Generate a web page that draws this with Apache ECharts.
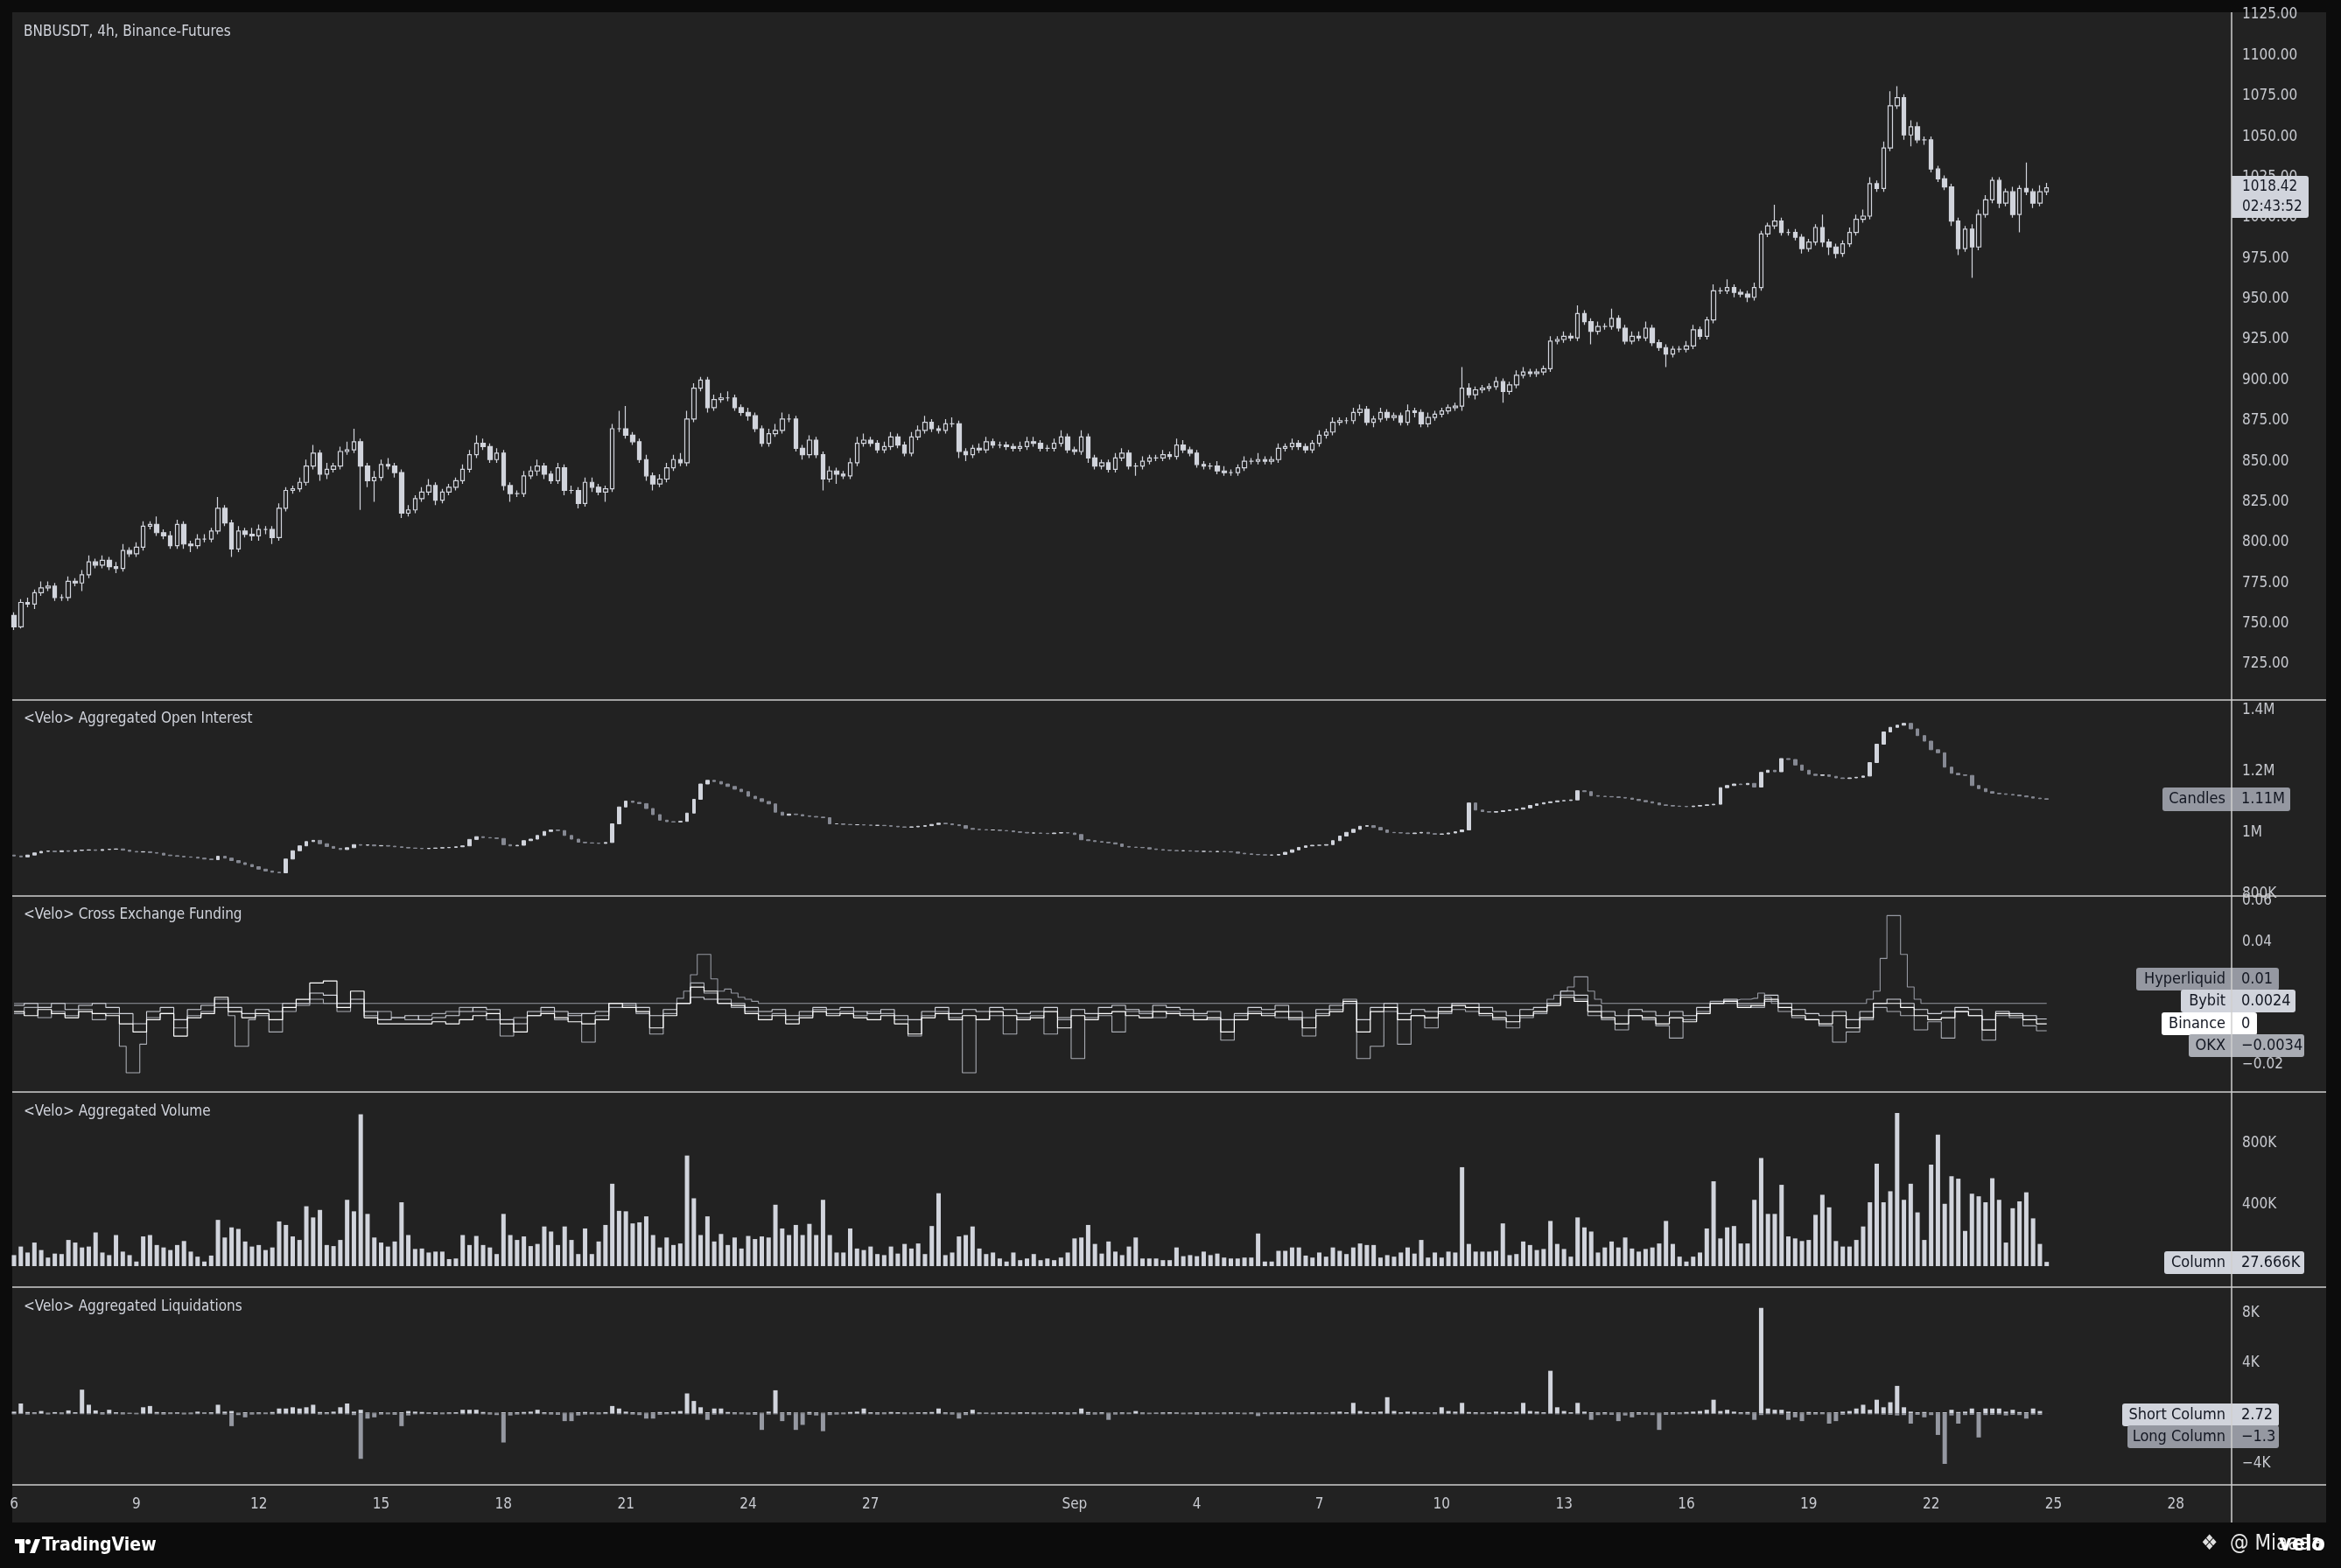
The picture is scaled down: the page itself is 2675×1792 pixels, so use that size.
<!DOCTYPE html>
<html>
<head>
<meta charset="utf-8">
<script src="https://cdn.jsdelivr.net/npm/echarts@6/dist/echarts.min.js"></script>
<style>
html, body { margin: 0; padding: 0; background: #0c0c0c; }
#panel { position: absolute; left: 14px; top: 14px; width: 2644px; height: 1726px; background: #222222; }
#container { position: absolute; left: 0; top: 0; width: 2675px; height: 1792px; }
</style>
</head>
<body>
<div id="panel"></div>
<div id="container"></div>
<script>
// BNBUSDT 4h candles, Aug 6 00:00 -> Sep 24 20:00 (300 bars)
const firstOpen = 755;
const closes = [
  748,763,762,769,772,773,766,766,776,775,
  780,788,786,789,785,784,795,793,797,810,
  811,806,804,798,811,799,798,802,802,807,
  821,812,796,807,805,804,808,808,803,821,
  832,833,837,847,855,842,845,847,856,857,
  862,847,838,840,848,847,843,818,820,827,
  831,835,826,831,834,838,845,854,861,859,
  851,855,835,830,830,841,844,847,842,838,
  846,832,832,824,837,834,831,833,870,870,
  866,862,851,841,836,839,846,851,849,876,
  895,900,883,888,889,889,883,880,878,870,
  861,867,869,876,876,858,854,863,854,839,
  844,842,841,849,861,863,861,857,859,865,
  860,855,865,869,874,870,869,873,873,856,
  854,858,857,862,860,860,859,858,859,862,
  861,858,858,861,865,857,856,865,852,847,
  849,845,852,855,847,847,850,852,852,854,
  853,860,857,855,848,847,847,844,843,843,
  846,850,850,851,850,851,858,859,861,859,
  857,861,866,868,874,875,875,880,882,874,
  876,880,877,878,874,881,880,873,877,879,
  881,883,884,895,891,894,895,896,899,893,
  897,903,905,904,905,907,924,925,927,926,
  941,936,930,933,933,938,932,924,927,926,
  932,923,920,916,919,919,921,931,927,937,
  955,955,957,954,953,951,957,990,995,998,
  991,991,988,981,985,994,985,982,978,984,
  991,999,1001,1021,1018,1043,1069,1074,1051,1056,
  1048,1048,1030,1024,1019,998,981,993,982,1002,
  1011,1023,1009,1016,1002,1018,1016,1009,1016,1018.42
];
const upperWick = [
  2,2,3,2,4,3,2,2,3,2, 3,4,2,3,2,3,4,2,3,3, 2,5,2,3,3,2,2,3,3,2, 7,2,2,3,2,4,3,2,2,3,
  2,2,3,4,5,2,4,2,3,5, 8,2,2,4,3,4,2,2,3,2, 3,4,2,2,2,2,3,3,5,3, 2,3,2,2,2,3,3,4,2,2,
  3,2,3,2,3,3,2,2,3,11, 14,2,2,3,2,3,3,3,4,5, 3,2,2,3,3,4,2,2,3,2, 2,3,4,4,3,2,2,3,2,2,
  3,2,2,3,4,4,2,2,3,3, 2,2,3,3,4,2,2,3,4,2, 2,2,3,3,2,2,2,2,3,3, 3,2,2,3,4,2,2,4,2,2,
  2,2,3,3,2,2,3,2,2,3, 2,4,3,2,2,2,2,3,3,2, 2,3,2,4,2,2,3,2,3,2, 2,2,3,2,3,2,2,3,3,2,
  2,3,2,2,2,4,2,2,3,2, 2,2,2,13,3,2,2,2,3,2, 2,3,3,2,2,2,3,2,3,2, 5,2,2,3,2,6,2,2,3,3,
  4,2,2,2,2,2,3,3,2,2, 4,2,5,2,2,2,3,2,2,10, 2,2,2,2,2,2,8,2,2,2, 3,3,4,4,2,4,9,7,2,4,
  3,2,2,2,2,2,2,2,3,3, 3,2,2,2,3,2,16,2,4,3
];
const lowerWick = [
  2,1,2,3,2,2,2,2,2,2, 5,2,2,2,2,3,2,2,2,2, 2,2,2,2,2,3,4,2,2,2, 2,2,5,2,2,3,3,3,4,2,
  2,2,2,2,2,4,3,2,2,2, 2,27,4,13,2,2,3,3,2,2, 2,2,3,2,2,2,2,2,2,2, 2,2,3,5,2,2,2,3,3,2,
  2,3,2,3,2,3,2,6,2,2, 2,2,2,3,4,2,2,2,2,2, 2,2,3,2,2,2,2,2,3,2, 2,2,2,2,2,2,3,2,2,7,
  2,6,2,2,2,2,2,2,2,2, 2,2,2,2,2,2,2,2,2,4, 4,2,2,2,2,2,2,2,2,2, 2,2,2,2,2,2,2,2,3,2,
  2,2,2,2,2,6,2,2,2,2, 2,2,2,2,2,2,2,2,2,2, 2,2,2,2,2,2,2,2,2,2, 2,2,2,2,2,2,2,2,2,2,
  3,2,2,2,2,2,3,2,2,2, 2,2,2,3,2,3,2,2,2,7, 2,2,2,2,2,2,2,2,2,2, 2,2,8,2,2,2,2,2,2,2,
  2,2,2,8,2,2,2,2,2,2, 2,2,2,3,2,3,2,2,2,2, 2,2,2,3,2,2,3,5,3,2, 2,2,2,2,2,2,2,2,3,7,
  2,3,2,2,2,3,4,2,19,2, 2,2,3,2,2,11,2,3,2,2
];

// aggregated open interest, millions
const oiFirstOpen = 0.928;
const oiClose = [
  .925,.922,.928,.935,.940,.941,.939,.942,.940,.943,
  .944,.945,.943,.946,.947,.948,.944,.940,.938,.939,
  .936,.934,.928,.926,.924,.922,.921,.918,.915,.913,
  .924,.918,.910,.903,.897,.890,.882,.876,.872,.870,
  .915,.942,.958,.972,.976,.965,.956,.950,.946,.952,
  .962,.960,.961,.958,.959,.957,.955,.953,.951,.950,
  .949,.950,.951,.952,.953,.955,.958,.979,.988,.985,
  .984,.982,.962,.958,.960,.975,.980,.992,1.005,1.010,
  1.008,.992,.980,.970,.968,.967,.966,.969,1.030,1.085,
  1.104,1.100,1.096,1.080,1.060,1.042,1.037,1.036,1.038,1.065,
  1.110,1.160,1.172,1.168,1.160,1.152,1.143,1.135,1.120,1.112,
  1.103,1.095,1.068,1.058,1.062,1.060,1.056,1.054,1.052,1.050,
  1.030,1.030,1.028,1.027,1.027,1.026,1.025,1.025,1.024,1.022,
  1.020,1.019,1.020,1.022,1.024,1.028,1.032,1.030,1.027,1.024,
  1.015,1.012,1.011,1.010,1.010,1.008,1.007,1.004,1.002,1.000,
  1.000,.999,.998,1.000,1.001,1.000,.995,.978,.975,.972,
  .970,.968,.964,.956,.954,.953,.952,.948,.946,.944,
  .943,.942,.942,.941,.940,.940,.939,.940,.939,.938,
  .934,.932,.930,.929,.928,.928,.930,.937,.945,.953,
  .958,.960,.960,.962,.975,.990,1.002,1.012,1.022,1.024,
  1.018,1.010,1.002,1.001,1.000,.998,1.000,1.002,.998,.996,
  .997,1.000,1.004,1.010,1.098,1.075,1.070,1.068,1.070,1.073,
  1.075,1.078,1.082,1.090,1.095,1.099,1.102,1.105,1.106,1.108,
  1.138,1.135,1.122,1.120,1.119,1.118,1.116,1.114,1.110,1.106,
  1.102,1.098,1.092,1.090,1.088,1.087,1.086,1.088,1.090,1.092,
  1.094,1.148,1.155,1.160,1.158,1.162,1.150,1.198,1.205,1.200,
  1.243,1.240,1.222,1.205,1.192,1.188,1.190,1.185,1.180,1.178,
  1.180,1.182,1.186,1.230,1.290,1.330,1.345,1.352,1.358,1.340,
  1.318,1.300,1.272,1.262,1.215,1.195,1.190,1.188,1.155,1.145,
  1.135,1.130,1.128,1.126,1.124,1.121,1.118,1.114,1.112,1.110
];

// cross exchange funding, %
const fundHyperliquid = [
  .01,.01,.01,.01,.01,.01,.01,.01,.01,.01, .01,.01,.01,.01,.01,.01,.01,.01,.01,.01,
  .01,.01,.01,.01,.01,.01,.01,.01,.01,.01, .012,.012,.01,.01,.01,.01,.01,.01,.01,.01,
  .01,.01,.01,.01,.01,.01,.01,.01,.01,.01, .01,.01,.01,.01,.01,.01,.01,.01,.01,.01,
  .01,.01,.01,.01,.01,.01,.01,.01,.01,.01, .01,.01,.01,.01,.01,.01,.01,.01,.01,.01,
  .01,.01,.01,.01,.01,.01,.01,.01,.01,.01, .01,.01,.01,.01,.01,.01,.01,.01,.0125,.016,
  .024,.034,.034,.022,.016,.017,.015,.013,.012,.011, .01,.01,.01,.01,.01,.01,.01,.01,.01,.01,
  .01,.01,.01,.01,.01,.01,.01,.01,.01,.01, .01,.01,.01,.01,.01,.01,.01,.01,.01,.01,
  .01,.01,.01,.01,.01,.01,.01,.01,.01,.01, .01,.01,.01,.01,.01,.01,.01,.01,.01,.01,
  .01,.01,.01,.01,.01,.01,.01,.01,.01,.01, .01,.01,.01,.01,.01,.01,.01,.01,.01,.01,
  .01,.01,.01,.01,.01,.01,.01,.01,.01,.01, .01,.01,.01,.01,.01,.01,.01,.01,.01,.01,
  .01,.01,.01,.01,.01,.01,.01,.01,.01,.01, .01,.01,.01,.01,.01,.01,.01,.01,.01,.01,
  .01,.01,.01,.01,.01,.01,.012,.014,.016,.018, .023,.023,.016,.012,.01,.01,.01,.01,.01,.01,
  .01,.01,.01,.01,.01,.01,.01,.01,.01,.01, .01,.01,.0115,.0115,.012,.012,.0125,.015,.013,.01,
  .01,.01,.01,.01,.01,.01,.01,.01,.01,.01, .01,.01,.01,.012,.016,.032,.053,.053,.034,.018,
  .012,.01,.01,.01,.01,.01,.01,.01,.01,.01, .01,.01,.01,.01,.01,.01,.01,.01,.01,.01
];
const fundBybit = [
  .009,.009,.01,.01,.008,.008,.01,.01,.007,.007,.009,.009,.01,.01,.008,.008,
  .005,.005,0,0,.006,.006,.008,.008,.002,.002,.007,.007,.009,.009,.01,.01,
  .008,.008,.005,.005,.007,.007,.006,.006,.01,.01,.01,.01,.015,.015,.014,.014,
  .01,.01,.012,.012,.006,.006,.002,.002,.003,.003,.004,.004,.002,.002,.003,.003,
  .004,.004,.006,.006,.008,.008,.007,.007,.002,.002,0,0,.006,.006,.008,.008,
  .006,.006,.004,.004,.005,.005,.006,.006,.01,.01,.01,.01,.008,.008,.004,.004,
  .007,.007,.01,.01,.013,.013,.012,.012,.01,.01,.01,.01,.008,.008,.006,.006,
  .007,.007,.004,.004,.006,.006,.008,.008,.007,.007,.008,.008,.006,.006,.005,.005,
  .007,.007,.004,.004,.002,.002,.006,.006,.008,.008,.005,.005,.007,.007,.006,.006,
  .008,.008,.007,.007,.005,.005,.006,.006,.008,.008,.003,.003,.007,.007,.005,.005,
  .008,.008,.009,.009,.007,.007,.006,.006,.009,.009,.008,.008,.007,.007,.005,.005,
  .006,.006,.002,.002,.005,.005,.008,.008,.007,.007,.009,.009,.006,.006,.003,.003,
  .007,.007,.009,.009,.01,.01,.002,.002,.008,.008,.01,.01,.005,.005,.007,.007,
  .006,.006,.008,.008,.01,.01,.01,.01,.008,.008,.006,.006,.004,.004,.007,.007,
  .008,.008,.01,.01,.016,.016,.014,.014,.009,.009,.006,.006,.004,.004,.007,.007,
  .006,.006,.004,.004,.006,.006,.004,.004,.008,.008,.01,.01,.012,.012,.01,.01,
  .01,.01,.014,.014,.01,.01,.007,.007,.005,.005,.004,.004,.006,.006,.002,.002,
  .006,.006,.01,.01,.012,.012,.01,.01,.007,.007,.005,.005,.006,.006,.008,.008,
  .007,.007,.002,.002,.006,.006,.005,.005,.004,.004,.0024,.0024
];
const fundBinance = [
  .006,.006,.004,.004,.007,.007,.005,.005,.003,.003,.006,.006,.005,.005,.004,.004,
  0,0,-.004,-.004,.002,.002,.005,.005,-.006,-.006,.003,.003,.005,.005,.013,.013,
  .006,.006,.003,.003,.005,.005,.002,.002,.008,.008,.012,.012,.02,.02,.021,.021,
  .008,.008,.016,.016,.003,.003,0,0,0,0,0,0,0,0,.001,.001,
  0,0,.002,.002,.004,.004,.005,.005,0,0,-.004,-.004,.004,.004,.005,.005,
  .003,.003,.001,.001,0,0,.002,.002,.01,.01,.008,.008,.006,.006,-.002,-.002,
  .004,.004,.01,.01,.018,.018,.016,.016,.01,.01,.009,.009,.005,.005,.002,.002,
  .004,.004,0,0,.003,.003,.006,.006,.004,.004,.005,.005,.003,.003,.002,.002,
  .004,.004,0,0,-.005,-.005,.003,.003,.005,.005,.002,.002,.004,.004,.002,.002,
  .006,.006,.004,.004,.002,.002,.003,.003,.006,.006,-.002,-.002,.004,.004,.002,.002,
  .005,.005,.006,.006,.004,.004,.003,.003,.006,.006,.005,.005,.004,.004,.002,.002,
  .003,.003,-.004,-.004,.002,.002,.005,.005,.004,.004,.006,.006,.003,.003,-.002,-.002,
  .004,.004,.006,.006,.011,.011,-.004,-.004,.006,.006,.008,.008,.002,.002,.004,.004,
  .003,.003,.006,.006,.009,.009,.008,.008,.005,.005,.003,.003,.001,.001,.004,.004,
  .006,.006,.009,.009,.013,.013,.011,.011,.006,.006,.003,.003,0,0,.004,.004,
  .003,.003,0,0,.003,.003,.001,.001,.005,.005,.01,.01,.011,.011,.008,.008,
  .009,.009,.012,.012,.008,.008,.004,.004,.002,.002,0,0,.004,.004,-.002,-.002,
  .003,.003,.01,.01,.01,.01,.008,.008,.004,.004,.002,.002,.003,.003,.006,.006,
  .004,.004,-.003,-.003,.005,.005,.004,.004,.002,.002,0,0
];
const fundOkx = [
  .005,.005,.008,.008,.003,.003,.006,.006,.004,.004,.007,.007,.002,.002,.005,.005,
  -.011,-.024,-.024,-.01,.003,.003,.005,.005,-.002,-.002,.004,.004,.006,.006,.008,.008,
  .004,-.011,-.011,.002,.004,.004,-.004,-.004,.006,.006,.009,.009,.012,.012,.01,.01,
  .006,.006,.01,.01,.004,.004,.006,.006,.003,.003,.002,.002,.004,.004,.005,.005,
  .006,.006,.008,.008,.006,.006,.002,.002,-.006,-.006,.003,.003,.004,.004,.006,.006,
  .002,.002,.005,.005,-.009,-.009,.004,.004,.008,.008,.009,.009,.005,.005,-.005,-.005,
  .005,.005,.01,.01,.02,.02,.015,.015,.012,.012,.008,.008,.006,.006,.004,.004,
  .005,.005,.002,.002,.004,.004,.007,.007,.005,.005,.006,.006,.004,.004,.006,.006,
  .005,.005,.002,.002,-.006,-.006,.004,.004,.006,.006,.003,.003,-.024,-.024,.002,.002,
  .004,.004,-.005,-.005,.003,.003,.004,.004,-.005,-.005,.002,.002,-.017,-.017,.003,.003,
  .004,.004,-.004,-.004,.006,.006,.005,.005,.003,.003,.006,.006,.005,.005,.004,.004,
  .002,.002,-.008,-.008,.004,.004,.006,.006,.005,.005,.003,.003,.002,.002,-.006,-.006,
  .005,.005,.007,.007,.012,.012,-.017,-.017,-.011,-.011,.006,.006,-.01,-.01,.004,.004,
  -.002,-.002,.005,.005,.007,.007,.006,.006,.004,.004,.002,.002,-.002,-.002,.003,.003,
  .005,.005,.01,.01,.014,.014,.012,.012,.004,.004,.002,.002,-.003,-.003,.004,.004,
  .002,.002,-.001,-.001,-.007,-.007,.002,.002,.006,.006,.011,.011,.01,.01,.009,.009,
  .008,.008,.011,.011,.006,.006,.003,.003,.002,.002,-.001,-.001,-.009,-.009,-.004,-.004,
  .002,.002,.008,.008,.006,.006,.004,.004,-.003,-.003,.001,.001,-.007,-.007,.006,.006,
  .004,.004,-.008,-.008,.004,.004,.003,.003,-.001,-.001,-.0034,-.0034
];

// aggregated volume, thousands
const volumeK = [
  72,128,89,154,105,56,82,79,171,154,
  122,128,220,89,72,203,95,72,30,194,
  203,138,122,105,138,164,95,62,30,69,
  302,187,253,243,161,128,138,105,122,292,
  269,194,171,391,318,367,138,131,171,433,
  358,991,341,187,154,128,161,417,203,112,
  115,89,95,95,46,50,203,138,197,138,
  122,79,341,203,171,194,131,145,259,226,
  138,259,171,79,246,79,161,269,538,361,
  358,279,286,325,203,122,187,138,148,722,
  443,203,325,161,210,138,187,115,197,177,
  194,187,401,246,203,269,203,276,203,433,
  203,89,89,246,115,105,128,79,72,128,
  82,145,115,148,79,262,476,72,89,194,
  203,259,115,79,89,50,30,89,39,50,
  79,39,50,39,56,89,181,187,269,145,
  82,161,95,72,128,187,50,50,50,39,
  39,122,65,72,65,95,72,82,56,50,
  50,56,56,213,30,30,100,100,122,122,
  69,56,89,62,122,100,79,122,148,138,
  138,56,72,62,89,122,82,171,56,89,
  56,95,89,646,145,95,95,95,100,279,
  72,79,161,138,105,112,295,145,112,62,
  318,253,226,89,122,161,122,187,115,95,
  112,122,148,295,145,62,30,62,89,246,
  554,181,253,262,148,148,433,706,341,341,
  531,194,181,164,171,335,466,384,164,128,
  128,171,259,417,669,417,489,1000,433,538,
  351,171,663,859,407,587,571,230,473,456,
  417,574,433,154,378,423,482,312,145,27.666
];

// aggregated liquidations (shorts positive, longs negative)
const liqShort = [
  150,800,120,90,200,60,110,80,250,100, 1900,700,250,90,300,100,80,60,50,500,
  600,120,100,80,90,60,70,150,80,100, 700,150,200,60,100,80,90,70,120,400,
  400,500,400,500,700,120,100,150,500,800, 150,300,80,60,100,70,90,100,200,150,
  120,80,100,70,90,100,300,300,300,120, 80,60,100,90,100,120,150,300,100,90,
  80,60,70,100,120,90,80,110,600,400, 150,100,80,60,90,120,100,150,200,1600,
  1000,500,100,400,400,120,90,80,70,100, 60,150,1850,90,100,80,70,120,90,60,
  100,80,70,120,150,400,100,90,80,120, 100,80,70,90,100,120,400,90,80,60,
  100,300,80,70,60,90,80,70,100,90, 80,70,60,90,100,80,90,400,120,80,
  100,60,80,90,70,200,80,60,70,90, 100,80,60,70,90,80,70,60,80,90,
  70,60,80,60,70,80,90,100,80,70, 90,100,80,70,120,150,100,850,200,120,
  100,150,1300,200,100,150,120,100,80,90, 500,200,150,850,120,100,90,80,150,120,
  100,150,850,200,150,100,3400,500,200,100, 850,150,100,80,100,70,80,60,90,100,
  80,70,60,90,100,80,120,150,200,300, 1100,200,300,150,100,120,80,8400,400,300,
  300,150,100,80,120,100,90,80,100,150, 200,400,700,300,1100,500,900,2200,500,150,
  100,120,80,90,100,300,120,150,400,100, 400,400,400,150,300,120,100,400,200,2.72
];
const liqLong = [
  -60,-40,-80,-50,-30,-70,-40,-60,-50,-40, -50,-60,-40,-80,-60,-50,-70,-40,-60,-50,
  -40,-60,-80,-50,-40,-70,-60,-50,-40,-60, -50,-80,-1000,-120,-300,-80,-60,-50,-70,-40,
  -50,-40,-60,-50,-40,-80,-60,-50,-40,-60, -120,-3600,-400,-300,-80,-60,-100,-1000,-150,-60,
  -50,-40,-80,-60,-50,-40,-60,-50,-40,-60, -80,-120,-2300,-150,-80,-60,-50,-40,-60,-80,
  -100,-600,-600,-150,-80,-60,-70,-50,-40,-60, -50,-80,-120,-400,-400,-100,-60,-50,-40,-60,
  -40,-60,-500,-80,-60,-50,-70,-60,-80,-100, -1300,-80,-60,-600,-120,-1300,-900,-100,-150,-1400,
  -120,-80,-60,-50,-40,-60,-50,-80,-60,-50, -40,-60,-50,-40,-60,-50,-40,-60,-80,-400,
  -120,-60,-50,-40,-60,-50,-40,-60,-50,-40, -60,-50,-40,-60,-50,-80,-60,-50,-100,-80,
  -60,-500,-80,-60,-50,-40,-60,-50,-40,-60, -50,-40,-60,-50,-80,-60,-50,-40,-60,-50,
  -40,-60,-50,-200,-40,-60,-50,-40,-60,-50, -40,-60,-50,-40,-60,-50,-40,-60,-50,-40,
  -60,-50,-40,-60,-50,-40,-60,-50,-40,-60, -50,-40,-60,-50,-40,-60,-50,-40,-60,-50,
  -40,-60,-50,-40,-60,-50,-40,-60,-50,-40, -60,-50,-500,-120,-80,-100,-600,-150,-300,-100,
  -80,-120,-1300,-100,-80,-60,-50,-40,-60,-50, -40,-60,-50,-40,-60,-80,-500,-120,-60,-50,
  -80,-500,-300,-600,-100,-80,-60,-800,-600,-100, -60,-50,-40,-60,-50,-80,-100,-150,-120,-800,
  -100,-300,-120,-1700,-4000,-150,-800,-120,-100,-1900, -120,-100,-80,-150,-100,-120,-400,-80,-100,-1.3
];

// axis ticks
const dayTicks = [0, 18, 36, 54, 72, 90, 108, 126, 156, 174, 192, 210, 228, 246, 264, 282, 300, 318];
const dayLabels = ['6', '9', '12', '15', '18', '21', '24', '27', 'Sep', '4', '7', '10', '13', '16', '19', '22', '25', '28'];
const priceTicks = [725, 750, 775, 800, 825, 850, 875, 900, 925, 950, 975, 1000, 1025, 1050, 1075, 1100, 1125];
const oiTicks = [0.8, 1.0, 1.2, 1.4];
const fundTicks = [-0.02, 0, 0.02, 0.04, 0.06];
const volTicks = [0, 400, 800];
const liqTicks = [-4000, 0, 4000, 8000];

const FONT = "'DejaVu Sans Condensed','Liberation Sans Narrow','DejaVu Sans',sans-serif";
const TXT = '#c8cad0';
const LIGHT = '#d1d4dc';
const GRAY = '#9598a1';
const AXIS_X = 2550;
const last = arr => arr[arr.length - 1];
const minus = s => s.replace('-', '\u2212');

const candles = closes.map((c, i) => {
  const o = i ? closes[i - 1] : firstOpen;
  return [i, o, c, Math.min(o, c) - lowerWick[i], Math.max(o, c) + upperWick[i]];
});
const oiCandles = oiClose.map((c, i) => {
  const o = i ? oiClose[i - 1] : oiFirstOpen;
  return [i, o, c, Math.min(o, c), Math.max(o, c)];
});
const xy = arr => arr.map((v, i) => [i, v]);

const panes = [
  { top: 14, h: 786 },
  { top: 800, h: 224 },
  { top: 1024, h: 224 },
  { top: 1248, h: 223 },
  { top: 1471, h: 226 }
];

function yAx(i, min, max, ticks, fmt) {
  return {
    type: 'value', gridIndex: i, position: 'right', min: min, max: max,
    axisLine: { show: false }, axisTick: { show: false }, splitLine: { show: false },
    axisLabel: { customValues: ticks, formatter: fmt, color: TXT, fontFamily: FONT, fontSize: 17, margin: 12 }
  };
}

function badge(x0, x1, y0, y1, bg, label, value) {
  const cy = (y0 + y1) / 2;
  const f = '18px ' + FONT;
  return [
    { type: 'rect', z: 50, shape: { x: x0, y: y0, width: x1 - x0, height: y1 - y0, r: 3 }, style: { fill: bg } },
    { type: 'text', z: 51, style: { text: label, x: AXIS_X - 7, y: cy, font: f, fill: '#131722', textAlign: 'right', textVerticalAlign: 'middle' } },
    { type: 'text', z: 51, style: { text: value, x: AXIS_X + 11, y: cy, font: f, fill: '#131722', textAlign: 'left', textVerticalAlign: 'middle' } }
  ];
}

function title(y, t) {
  return { type: 'text', style: { text: t, x: 27, y: y, font: '17px ' + FONT, fill: LIGHT, textVerticalAlign: 'middle' } };
}

const graphics = [
  title(37, 'BNBUSDT, 4h, Binance-Futures'),
  title(822, '<Velo> Aggregated Open Interest'),
  title(1046, '<Velo> Cross Exchange Funding'),
  title(1271, '<Velo> Aggregated Volume'),
  title(1494, '<Velo> Aggregated Liquidations')
];
[800, 1024, 1248, 1471, 1697].forEach(y => {
  graphics.push({ type: 'line', z: 40, shape: { x1: 14, y1: y, x2: 2658, y2: y }, style: { stroke: '#cfcfcf', lineWidth: 1.5 } });
});

// last value badges
graphics.push(
  { type: 'rect', z: 50, shape: { x: AXIS_X, y: 201, width: 88, height: 48, r: [0, 3, 3, 0] }, style: { fill: LIGHT } },
  { type: 'text', z: 51, style: { text: last(closes).toFixed(2), x: AXIS_X + 12, y: 214, font: '17px ' + FONT, fill: '#131722', textVerticalAlign: 'middle' } },
  { type: 'text', z: 51, style: { text: '02:43:52', x: AXIS_X + 12, y: 237, font: '17px ' + FONT, fill: '#131722', textVerticalAlign: 'middle' } }
);
graphics.push(...badge(2471, 2617, 900, 927, GRAY, 'Candles', last(oiClose).toFixed(2) + 'M'));
graphics.push(...badge(2441, 2604, 1106, 1132, GRAY, 'Hyperliquid', String(last(fundHyperliquid))));
graphics.push(...badge(2492, 2623, 1131, 1157, LIGHT, 'Bybit', String(last(fundBybit))));
graphics.push(...badge(2470, 2579, 1157, 1183, '#ffffff', 'Binance', String(last(fundBinance))));
graphics.push(...badge(2501, 2633, 1182, 1208, '#a9acb3', 'OKX', minus(String(last(fundOkx)))));
graphics.push(...badge(2473, 2633, 1430, 1456, LIGHT, 'Column', last(volumeK).toFixed(3) + 'K'));
graphics.push(...badge(2425, 2604, 1604, 1630, LIGHT, 'Short Column', String(last(liqShort))));
graphics.push(...badge(2431, 2604, 1629, 1655, GRAY, 'Long Column', minus(String(last(liqLong)))));

// price scale border
graphics.push({ type: 'line', z: 60, shape: { x1: AXIS_X, y1: 14, x2: AXIS_X, y2: 1740 }, style: { stroke: '#cfcfcf', lineWidth: 1.5 } });

// footer
graphics.push(
  { type: 'rect', shape: { x: 17, y: 1759, width: 11, height: 5 }, style: { fill: '#ffffff' } },
  { type: 'rect', shape: { x: 22, y: 1759, width: 6, height: 16 }, style: { fill: '#ffffff' } },
  { type: 'circle', shape: { cx: 32, cy: 1762, r: 3 }, style: { fill: '#ffffff' } },
  { type: 'polygon', shape: { points: [[34, 1775], [40, 1759], [46, 1759], [40, 1775]] }, style: { fill: '#ffffff' } },
  { type: 'text', style: { text: 'TradingView', x: 48, y: 1767, font: 'bold 21px ' + FONT, fill: '#ffffff', textVerticalAlign: 'middle' } },
  { type: 'text', style: { text: '\u2756', x: 2515, y: 1765, font: '24px ' + FONT, fill: '#e0e0e0', textVerticalAlign: 'middle' } },
  { type: 'text', style: { text: '@ Miaaaa', x: 2548, y: 1765, font: '24px ' + FONT, fill: '#e8e8e8', textVerticalAlign: 'middle' } },
  { type: 'text', style: { text: 'velo', x: 2604, y: 1765, font: 'bold 25px ' + FONT, fill: '#ffffff', textVerticalAlign: 'middle' } }
);

var dom = document.getElementById('container');
var myChart = echarts.init(dom, null, { renderer: 'canvas' });

var option = {
  backgroundColor: 'transparent',
  animation: false,
  grid: panes.map(p => ({ left: 14, top: p.top, width: 2536, height: p.h, outerBoundsMode: 'none' })),
  xAxis: panes.map((p, i) => ({
    type: 'value', gridIndex: i, min: -0.26, max: 326.2,
    axisLine: { show: false }, axisTick: { show: false }, splitLine: { show: false },
    axisLabel: i === 4 ? {
      customValues: dayTicks,
      formatter: v => dayLabels[dayTicks.indexOf(Math.round(v))] || '',
      color: TXT, fontFamily: FONT, fontSize: 17, margin: 14
    } : { show: false }
  })),
  yAxis: [
    yAx(0, 702.9, 1126.6, priceTicks, v => v.toFixed(2)),
    yAx(1, 0.7943, 1.4343, oiTicks, v => v >= 1 ? (+v.toFixed(1)) + 'M' : Math.round(v * 1000) + 'K'),
    yAx(2, -0.0334, 0.0626, fundTicks, v => v === 0 ? '0' : minus(v.toFixed(2))),
    yAx(3, -137, 1137, volTicks, v => v === 0 ? '0' : v + 'K'),
    yAx(4, -5670, 10052, liqTicks, v => v === 0 ? '0' : minus(String(v / 1000)) + 'K')
  ],
  graphic: graphics,
  series: [
    {
      type: 'candlestick', xAxisIndex: 0, yAxisIndex: 0, data: candles, barWidth: 5,
      encode: { x: 0, y: [1, 2, 3, 4] },
      itemStyle: { color: '#222222', color0: LIGHT, borderColor: LIGHT, borderColor0: LIGHT, borderWidth: 1.2 }
    },
    {
      type: 'candlestick', xAxisIndex: 1, yAxisIndex: 1, data: oiCandles, barWidth: 4,
      encode: { x: 0, y: [1, 2, 3, 4] },
      itemStyle: { color: LIGHT, color0: '#868993', borderColor: LIGHT, borderColor0: '#868993', borderWidth: 1 }
    },
    { type: 'line', name: 'Hyperliquid', xAxisIndex: 2, yAxisIndex: 2, data: xy(fundHyperliquid), step: 'middle', symbol: 'none', lineStyle: { color: GRAY, width: 1.1 } },
    { type: 'line', name: 'OKX', xAxisIndex: 2, yAxisIndex: 2, data: xy(fundOkx), step: 'middle', symbol: 'none', lineStyle: { color: '#a9acb3', width: 1.1 } },
    { type: 'line', name: 'Bybit', xAxisIndex: 2, yAxisIndex: 2, data: xy(fundBybit), step: 'middle', symbol: 'none', lineStyle: { color: LIGHT, width: 1.1 } },
    { type: 'line', name: 'Binance', xAxisIndex: 2, yAxisIndex: 2, data: xy(fundBinance), step: 'middle', symbol: 'none', lineStyle: { color: '#ffffff', width: 1.2 } },
    { type: 'bar', xAxisIndex: 3, yAxisIndex: 3, data: xy(volumeK), barWidth: 5, itemStyle: { color: LIGHT } },
    { type: 'bar', xAxisIndex: 4, yAxisIndex: 4, data: xy(liqShort), stack: 'liq', barWidth: 5, itemStyle: { color: LIGHT } },
    { type: 'bar', xAxisIndex: 4, yAxisIndex: 4, data: xy(liqLong), stack: 'liq', barWidth: 5, itemStyle: { color: GRAY } }
  ]
};

if (option && typeof option === 'object') {
  myChart.setOption(option);
}

window.addEventListener('resize', myChart.resize);
</script>
</body>
</html>
